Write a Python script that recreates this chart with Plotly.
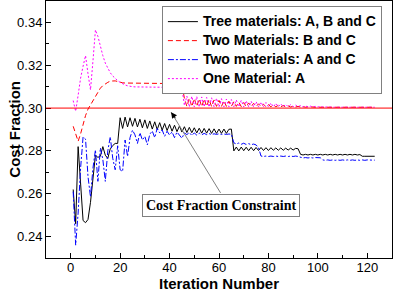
import plotly.graph_objects as go

ITER = list(range(1, 124))

TREE_ABC = [
    0.262, 0.246, 0.282, 0.262, 0.2475, 0.2465, 0.248, 0.256, 0.268, 0.278,
    0.277, 0.2775, 0.282, 0.278, 0.2765, 0.281, 0.2825, 0.2835, 0.2835, 0.2955,
    0.2905, 0.2958, 0.2912, 0.2955, 0.2915, 0.2952, 0.2912, 0.2948, 0.2908, 0.2945,
    0.2905, 0.294, 0.2902, 0.2936, 0.29, 0.2932, 0.2897, 0.2928, 0.2895, 0.2924,
    0.2892, 0.292, 0.289, 0.2916, 0.2888, 0.2913, 0.2886, 0.291, 0.2885, 0.2908,
    0.2884, 0.2906, 0.2883, 0.2905, 0.2883, 0.2904, 0.2882, 0.2903, 0.2882, 0.2902,
    0.2882, 0.2902, 0.2882, 0.2901, 0.2902,
    0.2800, 0.2818, 0.2800, 0.2818, 0.2801, 0.2817, 0.2801, 0.2817, 0.2801, 0.2816,
    0.2802, 0.2816, 0.2802, 0.2815, 0.2802, 0.2815, 0.2803, 0.2814, 0.2803, 0.2814,
    0.2803, 0.2813, 0.2804, 0.2813, 0.2804, 0.2812, 0.2810,
    0.2784, 0.2781, 0.2784, 0.2781, 0.2784, 0.2781, 0.2784, 0.2781, 0.2784, 0.2781,
    0.2784, 0.2781, 0.2784, 0.2781, 0.2784, 0.2781, 0.2784, 0.2781, 0.2784, 0.2781,
    0.2784, 0.2781, 0.2784, 0.2781, 0.2783,
    0.2775, 0.2775, 0.2775, 0.2775, 0.2775, 0.2775,
]

TWO_BC = [
    0.2915, 0.2875, 0.2845, 0.288, 0.2925, 0.2965, 0.2995, 0.3015, 0.3035, 0.3055,
    0.3075, 0.3093, 0.3105, 0.3114, 0.312, 0.3126, 0.3128, 0.3127, 0.3124, 0.312,
    0.3118, 0.3117, 0.3117, 0.3116, 0.3116, 0.3116, 0.3116, 0.3115, 0.3115, 0.3115,
    0.3115, 0.3115, 0.3115, 0.3115, 0.3115, 0.3115, 0.3115, 0.3115, 0.3115, 0.3115,
    0.3115, 0.3115, 0.3115, 0.3115, 0.3114,
    0.3045, 0.3008, 0.3046, 0.3007, 0.3044, 0.3008, 0.3043, 0.3007, 0.3042, 0.3008,
    0.304, 0.3007, 0.3038, 0.3008, 0.3036,
    0.3008, 0.3034, 0.3008, 0.3032, 0.3008, 0.303, 0.3008, 0.3028, 0.3007, 0.3026,
    0.3007, 0.3024, 0.3007, 0.3022, 0.3007,
    0.302, 0.3007, 0.3018, 0.3006, 0.3016, 0.3006, 0.3015, 0.3006, 0.3013, 0.3006,
    0.3012, 0.3005, 0.301, 0.3005, 0.3009,
    0.3005, 0.3008, 0.3005, 0.3007, 0.3004, 0.3006, 0.3004, 0.3005, 0.3004, 0.3005,
    0.3004, 0.3004, 0.3004, 0.3004, 0.3004,
    0.3004, 0.3004, 0.3004, 0.3004, 0.3004, 0.3004, 0.3004, 0.3004, 0.3004, 0.3004,
    0.3004, 0.3004, 0.3004, 0.3004, 0.3004, 0.3004, 0.3004, 0.3004,
]

TWO_AC = [
    0.261, 0.236, 0.251, 0.272, 0.2865, 0.2855, 0.268, 0.2585, 0.272, 0.2805,
    0.2658, 0.2814, 0.276, 0.2658, 0.28, 0.2866, 0.2766, 0.2712, 0.2824, 0.2712,
    0.2704, 0.2851, 0.2774, 0.2862, 0.2897, 0.2875, 0.2835, 0.2885, 0.2851, 0.2868,
    0.2828, 0.2878, 0.2893, 0.2862, 0.2905, 0.2884, 0.2898, 0.2868, 0.2892, 0.2874,
    0.2889, 0.2862, 0.2888, 0.2871, 0.2859, 0.2884, 0.2876, 0.2886, 0.2872, 0.2884,
    0.2874, 0.2883, 0.2875, 0.2882, 0.2876, 0.2881, 0.2876, 0.2880, 0.2877, 0.2880,
    0.2877, 0.2879, 0.2877, 0.2879, 0.2878,
    0.2838, 0.2832, 0.2837, 0.2831, 0.2836, 0.2830, 0.2834, 0.2829, 0.2832, 0.2828,
    0.2815,
    0.2776, 0.2774, 0.2776, 0.2774, 0.2776, 0.2774, 0.2776, 0.2774, 0.2776, 0.2774,
    0.2776, 0.2774, 0.2776, 0.2774, 0.2776, 0.2774,
    0.2769, 0.2767, 0.2769, 0.2767, 0.2769, 0.2767, 0.2769, 0.2767, 0.2768,
    0.2758, 0.2756, 0.2758, 0.2756, 0.2758, 0.2756, 0.2758, 0.2756, 0.2758, 0.2756,
    0.2758, 0.2756, 0.2758, 0.2756, 0.2758, 0.2756, 0.2758, 0.2756, 0.2758, 0.2756,
    0.2757, 0.2757,
]

ONE_A = [
    0.3035, 0.2985, 0.306, 0.314, 0.3195, 0.3245, 0.316, 0.3085, 0.322, 0.3365,
    0.3335, 0.3285, 0.3245, 0.321, 0.3185, 0.3165, 0.315, 0.3138, 0.3128, 0.312,
    0.3113, 0.3108, 0.3104, 0.3101, 0.31, 0.3099, 0.3099, 0.3098, 0.3098, 0.3098,
    0.3097, 0.3097, 0.3097, 0.3097, 0.3097, 0.3097, 0.3097, 0.3097, 0.3097, 0.3097,
    0.3097, 0.3097, 0.3097, 0.3097, 0.3096,
    0.3012, 0.3056, 0.3005, 0.3055, 0.3006, 0.3054, 0.3005, 0.3052, 0.3006, 0.305,
    0.3005, 0.3048, 0.3006, 0.3046, 0.3005,
    0.3044, 0.3006, 0.3042, 0.3006, 0.304, 0.3006, 0.3038, 0.3006, 0.3036, 0.3006,
    0.3034, 0.3006, 0.3032, 0.3006, 0.303,
    0.3006, 0.3028, 0.3006, 0.3026, 0.3006, 0.3024, 0.3006, 0.3022, 0.3006, 0.302,
    0.3006, 0.3018, 0.3006, 0.3016, 0.3006,
    0.3014, 0.3006, 0.3012, 0.3005, 0.301, 0.3005, 0.3009, 0.3005, 0.3008, 0.3005,
    0.3007, 0.3005, 0.3006, 0.3005, 0.3005,
    0.3004, 0.3004, 0.3004, 0.3004, 0.3004, 0.3004, 0.3004, 0.3004, 0.3004, 0.3004,
    0.3004, 0.3004, 0.3004, 0.3004, 0.3004, 0.3004, 0.3004, 0.3004,
]

SERIES_NAMES = [
    "Tree materials: A, B and C",
    "Two Materials: B and C",
    "Two materials: A and C",
    "One Material: A",
]

X_TITLE = "Iteration Number"
Y_TITLE = "Cost Fraction"
CONSTRAINT = 0.30
ANNOT_TEXT = "Cost Fraction Constraint"
ANNOT_HEAD = (40.6, 0.2981)
ANNOT_TAIL = (61.0, 0.2597)
ANNOT_CENTER = (60.8, 0.2547)

fig = go.Figure()

styles = [
    dict(color="#000000", dash="solid", width=1),
    dict(color="#ff0000", dash="5px,3px", width=1),
    dict(color="#0000ff", dash="6px,2px,2px,2px", width=1),
    dict(color="#ff00ff", dash="2px,2px", width=1),
]
for name, vals, st in zip(SERIES_NAMES, [TREE_ABC, TWO_BC, TWO_AC, ONE_A], styles):
    fig.add_trace(go.Scatter(x=ITER, y=vals, mode="lines",
                             name='<span style="font-size:14px">' + name + '</span>', line=st))

fig.add_shape(type="line", xref="paper", x0=0, x1=1, yref="y", y0=CONSTRAINT, y1=CONSTRAINT,
              line=dict(color="#ff0000", width=1), layer="above")

# gray arrow line from box to constraint
fig.add_annotation(x=ANNOT_HEAD[0], y=ANNOT_HEAD[1], ax=ANNOT_TAIL[0], ay=ANNOT_TAIL[1],
                   xref="x", yref="y", axref="x", ayref="y", text="", showarrow=True,
                   arrowhead=0, arrowwidth=1, arrowcolor="#808080")
# black arrow head
fig.add_annotation(x=ANNOT_HEAD[0], y=ANNOT_HEAD[1], ax=ANNOT_HEAD[0] + 2.2, ay=ANNOT_HEAD[1] - 0.0035,
                   xref="x", yref="y", axref="x", ayref="y", text="", showarrow=True,
                   arrowhead=2, arrowsize=1.2, arrowwidth=1, arrowcolor="#000000")
fig.add_annotation(x=ANNOT_CENTER[0], y=ANNOT_CENTER[1], xref="x", yref="y", text=ANNOT_TEXT,
                   showarrow=False, bgcolor="white", bordercolor="#808080", borderwidth=1,
                   borderpad=3,
                   font=dict(family="Liberation Serif", size=14, color="black", weight="bold"))

# axis titles as annotations for exact placement
fig.add_annotation(x=0.501, y=-0.099, xref="paper", yref="paper", text=X_TITLE,
                   showarrow=False, xanchor="center", yanchor="middle",
                   font=dict(family="Liberation Sans", size=15, color="black", weight="bold"))
fig.add_annotation(x=-0.092, y=0.50, xref="paper", yref="paper", text=Y_TITLE,
                   showarrow=False, xanchor="center", yanchor="middle", textangle=-90,
                   font=dict(family="Liberation Sans", size=15, color="black", weight="bold"))

axis_common = dict(
    showline=True, linecolor="black", linewidth=1, mirror=True,
    ticks="inside", ticklen=5, tickwidth=1, tickcolor="black",
    showgrid=False, zeroline=False, automargin=False,
    tickfont=dict(family="Liberation Sans", size=13, color="black"),
)

fig.update_layout(
    width=394, height=291,
    margin=dict(l=46, r=2, t=1, b=33),
    plot_bgcolor="white", paper_bgcolor="white",
    xaxis=dict(range=[-10, 130], dtick=20, tick0=0, ticklabelstandoff=-3,
               minor=dict(dtick=10, ticks="inside", ticklen=3, tickcolor="black"),
               **axis_common),
    yaxis=dict(range=[0.23, 0.35], dtick=0.02, tick0=0.24, tickformat=".2f",
               minor=dict(dtick=0.01, ticks="inside", ticklen=3, tickcolor="black"),
               **axis_common),
    legend=dict(x=0.335, y=0.98, xanchor="left", yanchor="top",
                bgcolor="white", bordercolor="#808080", borderwidth=1,
                font=dict(family="Liberation Sans", size=12, color="black", weight="bold"),
                tracegroupgap=0, itemwidth=30),
    showlegend=True,
)

fig.write_html("out.html", config={"displayModeBar": False},
               post_script="document.body.style.margin='0';document.body.style.overflow='hidden';")
